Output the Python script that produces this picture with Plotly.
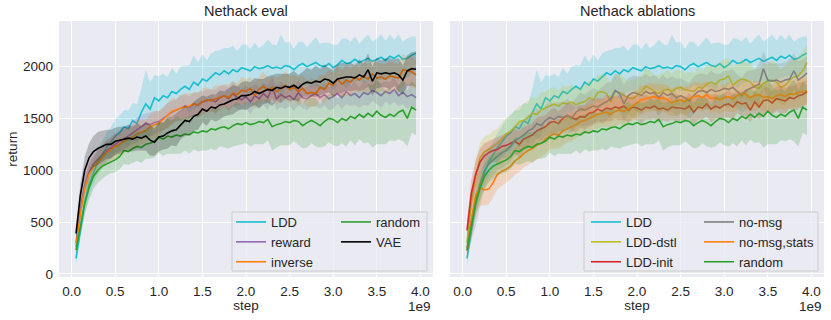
import plotly.graph_objects as go

# training steps (x 1e9)
steps = [0.05, 0.10, 0.15, 0.20, 0.25, 0.30, 0.35, 0.40, 0.45, 0.50,
         0.55, 0.60, 0.65, 0.70, 0.75, 0.80, 0.85, 0.90, 0.95, 1.00,
         1.05, 1.10, 1.15, 1.20, 1.25, 1.30, 1.35, 1.40, 1.45, 1.50,
         1.55, 1.60, 1.65, 1.70, 1.75, 1.80, 1.85, 1.90, 1.95, 2.00,
         2.05, 2.10, 2.15, 2.20, 2.25, 2.30, 2.35, 2.40, 2.45, 2.50,
         2.55, 2.60, 2.65, 2.70, 2.75, 2.80, 2.85, 2.90, 2.95, 3.00,
         3.05, 3.10, 3.15, 3.20, 3.25, 3.30, 3.35, 3.40, 3.45, 3.50,
         3.55, 3.60, 3.65, 3.70, 3.75, 3.80, 3.85, 3.90, 3.95]

ldd = [150, 430, 680, 860, 980, 1080, 1150, 1220, 1270, 1330,
       1360, 1420, 1400, 1480, 1450, 1560, 1640, 1590, 1700, 1670,
       1720, 1700, 1760, 1740, 1780, 1810, 1780, 1850, 1820, 1880,
       1860, 1900, 1940, 1920, 1960, 1930, 1970, 1950, 1990, 1975,
       1960, 2000, 1980, 1990, 2010, 1985, 1995, 1980, 2010, 2000,
       1970, 2010, 2030, 2000, 2020, 2040, 2010, 2000, 2030, 1990,
       2020, 2060, 2030, 2040, 2070, 2040, 2060, 2080, 2050, 2070,
       2090, 2060, 2100, 2080, 2110, 2070, 2080, 2110, 2130]
ldd_sd = [60, 80, 100, 110, 110, 120, 130, 140, 150, 160,
          170, 160, 180, 170, 190, 230, 330, 260, 220, 240,
          210, 200, 230, 190, 220, 200, 230, 260, 220, 240,
          200, 230, 210, 240, 220, 250, 230, 200, 220, 240,
          210, 230, 200, 220, 250, 230, 210, 330, 220, 240,
          200, 230, 210, 190, 220, 240, 210, 230, 200, 220,
          190, 210, 240, 200, 220, 180, 210, 230, 190, 200,
          220, 190, 210, 180, 200, 170, 190, 180, 160]

reward = [300, 620, 850, 980, 1060, 1110, 1150, 1190, 1220, 1250,
          1280, 1300, 1330, 1360, 1390, 1420, 1450, 1440, 1460, 1470,
          1500, 1530, 1560, 1580, 1600, 1620, 1610, 1640, 1630, 1660,
          1670, 1680, 1660, 1700, 1720, 1690, 1740, 1700, 1680, 1710,
          1660, 1720, 1690, 1740, 1700, 1800, 1690, 1730, 1700, 1720,
          1680, 1750, 1700, 1690, 1720, 1740, 1700, 1730, 1690, 1710,
          1740, 1700, 1760, 1720, 1740, 1700, 1750, 1730, 1770, 1750,
          1720, 1760, 1740, 1780, 1720, 1750, 1710, 1730, 1700]
reward_sd = [50, 70, 80, 90, 90, 90, 100, 100, 100, 110,
             100, 110, 100, 110, 120, 110, 100, 120, 110, 100,
             110, 120, 110, 100, 120, 110, 100, 110, 120, 100,
             110, 100, 120, 110, 100, 110, 120, 110, 100, 110,
             120, 110, 100, 110, 120, 100, 110, 120, 110, 100,
             110, 120, 100, 110, 100, 120, 110, 100, 110, 120,
             100, 110, 120, 100, 110, 100, 120, 110, 100, 110,
             120, 100, 110, 120, 100, 110, 120, 100, 110]

inverse = [260, 580, 820, 960, 1030, 1080, 1130, 1170, 1200, 1230,
           1250, 1280, 1300, 1320, 1350, 1370, 1380, 1420, 1440, 1450,
           1490, 1530, 1570, 1580, 1600, 1610, 1620, 1640, 1630, 1660,
           1680, 1670, 1690, 1700, 1720, 1700, 1740, 1730, 1770, 1760,
           1790, 1720, 1780, 1810, 1770, 1800, 1760, 1790, 1820, 1780,
           1800, 1760, 1790, 1740, 1750, 1740, 1800, 1780, 1840, 1820,
           1880, 1830, 1870, 1850, 1900, 1870, 1910, 1880, 1930, 1890,
           1900, 1880, 1910, 1900, 1890, 1970, 1960, 1950, 1920]
inverse_sd = [50, 70, 90, 100, 100, 110, 110, 120, 110, 120,
              110, 120, 110, 120, 130, 120, 110, 120, 130, 120,
              110, 120, 130, 110, 120, 130, 120, 110, 120, 130,
              120, 110, 130, 120, 110, 130, 120, 110, 130, 120,
              110, 130, 120, 140, 120, 110, 130, 120, 140, 130,
              120, 140, 130, 120, 140, 130, 120, 140, 130, 120,
              140, 130, 150, 130, 140, 120, 150, 130, 140, 150,
              130, 140, 150, 130, 140, 150, 140, 150, 140]

random_ = [230, 470, 680, 830, 940, 1000, 1040, 1060, 1080, 1100,
           1130, 1190, 1180, 1210, 1230, 1220, 1250, 1260, 1280, 1320,
           1300, 1330, 1320, 1340, 1330, 1350, 1340, 1370, 1360, 1380,
           1370, 1400, 1390, 1410, 1420, 1400, 1430, 1450, 1440, 1460,
           1440, 1450, 1470, 1460, 1490, 1420, 1440, 1450, 1470, 1460,
           1480, 1470, 1430, 1460, 1480, 1460, 1430, 1470, 1500, 1490,
           1460, 1500, 1480, 1520, 1500, 1540, 1510, 1550, 1520, 1570,
           1530, 1510, 1540, 1520, 1560, 1580, 1500, 1610, 1580]
random_sd = [60, 90, 110, 120, 120, 120, 120, 110, 110, 120,
             120, 130, 130, 140, 140, 150, 140, 150, 160, 150,
             160, 170, 160, 180, 170, 160, 180, 170, 180, 190,
             180, 190, 200, 180, 200, 190, 200, 210, 190, 200,
             210, 200, 220, 210, 200, 230, 220, 210, 230, 220,
             200, 230, 220, 240, 220, 230, 210, 240, 230, 250,
             230, 240, 250, 230, 260, 240, 250, 280, 300, 320,
             280, 260, 250, 240, 260, 300, 270, 250, 240]

vae = [390, 760, 1000, 1120, 1180, 1210, 1230, 1250, 1250, 1280,
       1290, 1300, 1310, 1300, 1320, 1310, 1330, 1290, 1270, 1320,
       1330, 1360, 1380, 1390, 1440, 1480, 1470, 1520, 1540, 1590,
       1570, 1610, 1600, 1630, 1640, 1660, 1680, 1690, 1720, 1720,
       1730, 1760, 1740, 1760, 1780, 1770, 1800, 1790, 1810, 1800,
       1820, 1790, 1830, 1850, 1840, 1860, 1850, 1880, 1870, 1840,
       1880, 1890, 1900, 1900, 1890, 1920, 1900, 1970, 1860, 1940,
       1930, 1940, 1930, 1940, 1920, 1870, 1960, 1980, 1975]
vae_sd = [60, 110, 130, 140, 150, 160, 150, 140, 140, 130,
          130, 120, 130, 120, 130, 120, 140, 150, 130, 140,
          130, 150, 140, 160, 140, 150, 130, 140, 150, 130,
          140, 120, 130, 140, 120, 130, 140, 120, 130, 140,
          120, 130, 140, 120, 130, 150, 130, 140, 120, 130,
          140, 130, 120, 140, 130, 150, 130, 140, 120, 130,
          140, 150, 130, 140, 120, 150, 130, 160, 140, 150,
          130, 140, 150, 130, 160, 140, 150, 160, 170]

ldd_dstl = [300, 700, 960, 1120, 1180, 1200, 1230, 1260, 1300, 1350,
            1380, 1420, 1470, 1480, 1510, 1550, 1540, 1580, 1600, 1620,
            1640, 1620, 1650, 1640, 1660, 1630, 1650, 1660, 1700, 1680,
            1750, 1760, 1740, 1660, 1760, 1750, 1720, 1700, 1690, 1720,
            1760, 1810, 1790, 1760, 1740, 1770, 1780, 1760, 1790, 1800,
            1780, 1770, 1760, 1800, 1790, 1830, 1850, 1830, 1870, 1880,
            1910, 1820, 1860, 1880, 1870, 1850, 1800, 1790, 1840, 1860,
            1870, 1850, 1800, 1820, 1870, 1900, 1910, 1960, 2040]
ldd_dstl_sd = [60, 120, 140, 150, 150, 140, 150, 140, 150, 160,
               150, 160, 150, 160, 170, 160, 150, 170, 160, 170,
               160, 150, 170, 160, 170, 160, 150, 170, 160, 180,
               170, 160, 180, 170, 160, 180, 170, 160, 180, 170,
               160, 180, 170, 160, 180, 170, 190, 170, 180, 170,
               160, 180, 170, 190, 170, 180, 160, 180, 170, 190,
               170, 180, 160, 190, 170, 180, 170, 190, 180, 170,
               190, 180, 170, 190, 180, 170, 190, 180, 170]

ldd_init = [420, 780, 960, 1080, 1140, 1170, 1190, 1200, 1230, 1240,
            1260, 1280, 1250, 1300, 1320, 1340, 1380, 1400, 1420, 1460,
            1470, 1450, 1500, 1530, 1510, 1490, 1520, 1510, 1550, 1560,
            1590, 1570, 1600, 1590, 1610, 1600, 1620, 1580, 1610, 1600,
            1580, 1610, 1600, 1620, 1590, 1600, 1580, 1610, 1600, 1600,
            1590, 1620, 1560, 1610, 1600, 1640, 1590, 1620, 1600, 1630,
            1640, 1610, 1660, 1640, 1650, 1580, 1660, 1610, 1670, 1680,
            1650, 1690, 1680, 1670, 1700, 1690, 1720, 1730, 1760]
ldd_init_sd = [80, 130, 140, 130, 120, 110, 110, 120, 110, 120,
               110, 120, 130, 120, 110, 120, 130, 120, 110, 120,
               130, 120, 110, 120, 130, 120, 110, 120, 130, 120,
               110, 120, 130, 120, 110, 120, 130, 120, 110, 120,
               130, 120, 110, 120, 130, 120, 110, 120, 130, 120,
               110, 120, 130, 120, 110, 120, 130, 120, 110, 120,
               130, 120, 110, 120, 130, 120, 110, 120, 130, 120,
               110, 120, 130, 120, 110, 120, 130, 120, 110]

no_msg = [250, 520, 710, 870, 1000, 1060, 1100, 1140, 1170, 1190,
          1230, 1290, 1310, 1340, 1380, 1400, 1450, 1430, 1480, 1510,
          1490, 1520, 1510, 1530, 1500, 1560, 1590, 1580, 1600, 1620,
          1610, 1640, 1660, 1690, 1770, 1740, 1640, 1720, 1750, 1740,
          1720, 1760, 1740, 1750, 1700, 1750, 1720, 1740, 1700, 1720,
          1700, 1670, 1720, 1760, 1770, 1750, 1780, 1760, 1770, 1790,
          1780, 1800, 1760, 1720, 1770, 1790, 1810, 1830, 1980, 1870,
          1860, 1870, 1850, 1870, 1880, 1960, 1870, 1900, 1940]
no_msg_sd = [80, 200, 250, 220, 180, 160, 150, 140, 150, 140,
             150, 140, 150, 140, 150, 160, 150, 140, 150, 160,
             150, 140, 150, 160, 150, 140, 160, 150, 160, 170,
             160, 170, 180, 170, 160, 170, 180, 170, 160, 170,
             180, 170, 160, 170, 180, 170, 160, 170, 180, 170,
             160, 170, 180, 170, 160, 170, 180, 170, 160, 170,
             180, 170, 160, 170, 180, 170, 160, 200, 170, 180,
             170, 160, 180, 170, 190, 170, 180, 170, 160]

no_msg_stats = [220, 520, 760, 830, 810, 820, 880, 960, 990, 1010,
                1040, 1090, 1120, 1160, 1190, 1210, 1240, 1260, 1300, 1330,
                1350, 1340, 1380, 1400, 1420, 1440, 1470, 1480, 1500, 1520,
                1540, 1550, 1560, 1540, 1570, 1580, 1570, 1590, 1620, 1650,
                1680, 1690, 1700, 1710, 1690, 1700, 1680, 1650, 1670, 1680,
                1660, 1690, 1710, 1720, 1700, 1730, 1690, 1700, 1680, 1700,
                1710, 1690, 1720, 1740, 1730, 1700, 1720, 1730, 1700, 1710,
                1690, 1720, 1730, 1710, 1740, 1730, 1750, 1760, 1770]
no_msg_stats_sd = [80, 160, 180, 170, 150, 150, 140, 140, 140, 130,
                   130, 130, 140, 130, 140, 130, 140, 130, 140, 130,
                   140, 130, 140, 130, 140, 130, 140, 130, 140, 130,
                   140, 130, 140, 130, 140, 130, 140, 130, 140, 130,
                   140, 130, 140, 130, 140, 130, 140, 130, 140, 130,
                   140, 130, 140, 130, 140, 130, 140, 130, 140, 130,
                   140, 130, 140, 130, 140, 130, 140, 130, 140, 130,
                   140, 130, 140, 130, 140, 130, 140, 130, 140]

x_ticks = [0.0, 0.5, 1.0, 1.5, 2.0, 2.5, 3.0, 3.5, 4.0]
y_ticks = [0, 500, 1000, 1500, 2000]

FONT = "Liberation Sans, Arial, sans-serif"
TXT = "#262626"
BG = "#EAEAF2"

# (name, mean, sd, colour, legend, rank)
eval_runs = [
    ("LDD", ldd, ldd_sd, "#17becf", "legend", 1),
    ("reward", reward, reward_sd, "#9467bd", "legend", 2),
    ("inverse", inverse, inverse_sd, "#ff7f0e", "legend", 3),
    ("random", random_, random_sd, "#2ca02c", "legend2", 4),
    ("VAE", vae, vae_sd, "#000000", "legend2", 5),
]
ablation_runs = [
    ("LDD", ldd, ldd_sd, "#17becf", "legend3", 1),
    ("LDD-dstl", ldd_dstl, ldd_dstl_sd, "#bcbd22", "legend3", 2),
    ("LDD-init", ldd_init, ldd_init_sd, "#d62728", "legend3", 3),
    ("no-msg", no_msg, no_msg_sd, "#7f7f7f", "legend4", 4),
    ("no-msg,stats", no_msg_stats, no_msg_stats_sd, "#ff7f0e", "legend4", 5),
    ("random", random_, random_sd, "#2ca02c", "legend4", 6),
]


def rgba(hex_color, a):
    h = hex_color.lstrip("#")
    r, g, b = int(h[0:2], 16), int(h[2:4], 16), int(h[4:6], 16)
    return f"rgba({r},{g},{b},{a})"


fig = go.Figure()
xs = [s * 1e9 for s in steps]


def add_run(name, mean, sd, color, legend, rank, xa, ya):
    upper = [m + s for m, s in zip(mean, sd)]
    lower = [m - s for m, s in zip(mean, sd)]
    fig.add_trace(go.Scatter(x=xs, y=upper, mode="lines", line=dict(width=0),
                             showlegend=False, hoverinfo="skip", xaxis=xa, yaxis=ya))
    fig.add_trace(go.Scatter(x=xs, y=lower, mode="lines", line=dict(width=0),
                             fill="tonexty", fillcolor=rgba(color, 0.22),
                             showlegend=False, hoverinfo="skip", xaxis=xa, yaxis=ya))
    fig.add_trace(go.Scatter(x=xs, y=mean, mode="lines", name=name,
                             line=dict(color=color, width=1.6),
                             legend=legend, legendrank=rank, xaxis=xa, yaxis=ya))


for run in eval_runs:
    add_run(*run, "x", "y")
for run in ablation_runs:
    add_run(*run, "x2", "y2")

W, H = 831, 320
PL, PR, PT, PB = 59, 824, 21, 277          # plot area in window pixels
ML, MR, MT, MB = PL, W - PR, PT, H - PB
pw, ph = W - ML - MR, H - MT - MB


def px(x):
    return (x - PL) / pw


def py(y):
    return (PB - y) / ph


common_x = dict(
    range=[-0.145e9, 4.145e9], tickvals=[t * 1e9 for t in x_ticks],
    ticktext=[f"{t:.1f}" for t in x_ticks], showgrid=True, gridcolor="white",
    gridwidth=1.2, zeroline=False, showline=False, ticks="", ticklabelstandoff=4,
    automargin=False, tickfont=dict(size=13.5),
    title=dict(text="step", standoff=2, font=dict(size=13.5)),
)
common_y = dict(
    range=[-30, 2440], tickvals=y_ticks, showgrid=True, gridcolor="white",
    gridwidth=1.2, zeroline=False, showline=False, ticks="", automargin=False,
    tickfont=dict(size=13.5),
)

legend_base = dict(bgcolor="rgba(0,0,0,0)", borderwidth=0, font=dict(size=13, color=TXT),
                   xanchor="left", yanchor="top", tracegroupgap=0, itemwidth=30,
                   orientation="v", traceorder="normal")

fig.update_layout(
    width=W, height=H,
    margin=dict(l=ML, r=MR, t=MT, b=MB, autoexpand=False),
    paper_bgcolor="white", plot_bgcolor=BG,
    font=dict(family=FONT, size=13.5, color=TXT),
    xaxis=dict(domain=[0, px(433)], anchor="y", **common_x),
    xaxis2=dict(domain=[px(450), 1], anchor="y2", **common_x),
    yaxis=dict(domain=[0, 1], anchor="x", ticklabelstandoff=5,
               title=dict(text="return", standoff=2, font=dict(size=13.5)), **common_y),
    yaxis2=dict(domain=[0, 1], anchor="x2", matches="y", showticklabels=False, **common_y),
    legend=dict(x=px(231), y=py(207), **legend_base),
    legend2=dict(x=px(336), y=py(207), **legend_base),
    legend3=dict(x=px(586), y=py(207), **legend_base),
    legend4=dict(x=px(699), y=py(207), **legend_base),
    shapes=[
        dict(type="rect", xref="paper", yref="paper", x0=px(232), x1=px(427),
             y0=py(271), y1=py(212), fillcolor="rgba(234,234,242,0.8)",
             line=dict(color="#cccccc", width=1), layer="above"),
        dict(type="rect", xref="paper", yref="paper", x0=px(584), x1=px(818),
             y0=py(271), y1=py(212), fillcolor="rgba(234,234,242,0.8)",
             line=dict(color="#cccccc", width=1), layer="above"),
    ],
    annotations=[
        dict(text="Nethack eval", xref="paper", yref="paper", x=px(246), y=1,
             xanchor="center", yanchor="bottom", showarrow=False, font=dict(size=14.5)),
        dict(text="Nethack ablations", xref="paper", yref="paper", x=px(637), y=1,
             xanchor="center", yanchor="bottom", showarrow=False, font=dict(size=14.5)),
        dict(text="1e9", xref="x domain", yref="paper", x=1, y=0, xanchor="right",
             yanchor="top", yshift=-20, showarrow=False),
        dict(text="1e9", xref="x2 domain", yref="paper", x=1, y=0, xanchor="right",
             yanchor="top", yshift=-20, showarrow=False),
    ],
)

# drop the browser's default 8px body margin so the figure fills the window
fig.write_html("out.html", config={"displayModeBar": False},
               post_script="document.body.style.margin='0';"
                           "document.body.style.overflow='hidden';")
